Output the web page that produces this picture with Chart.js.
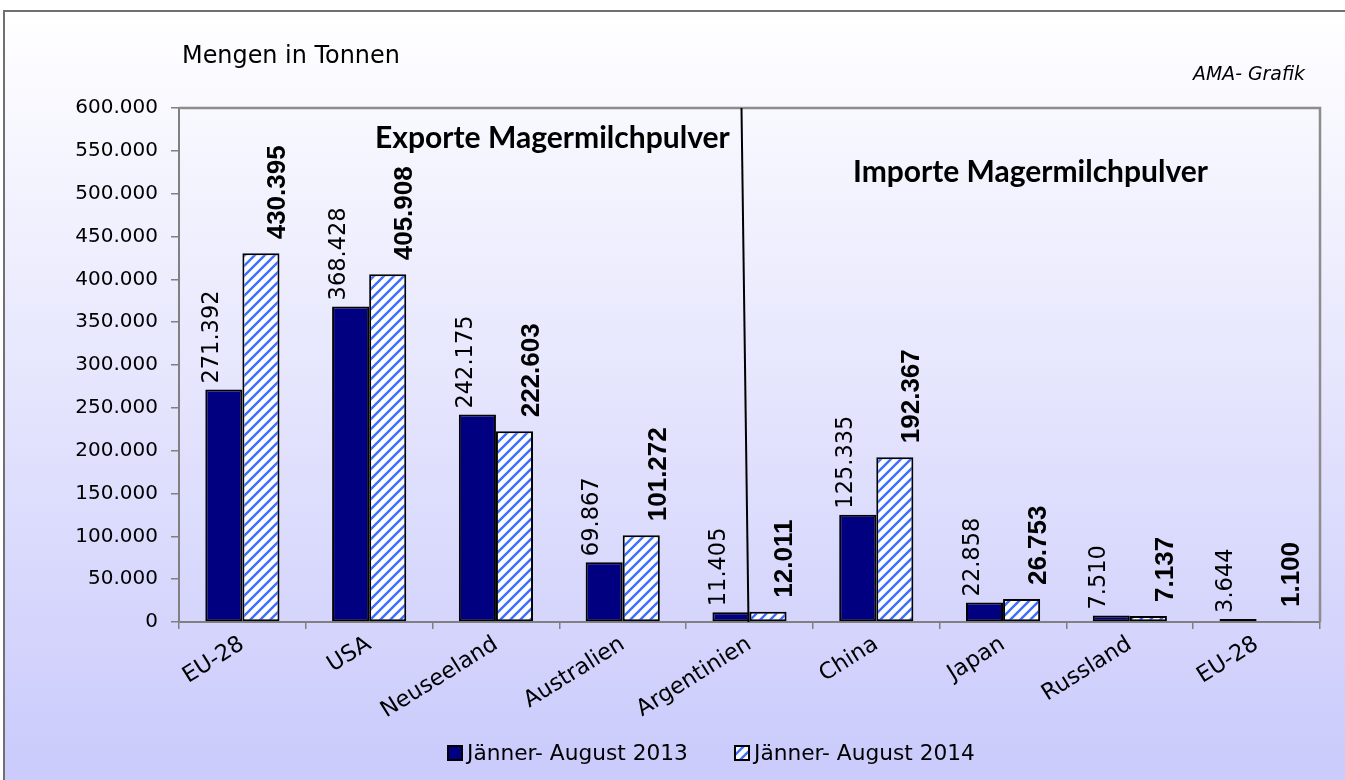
<!DOCTYPE html>
<html><head><meta charset="utf-8">
<script src="https://cdn.jsdelivr.net/npm/chart.js@4.4.1/dist/chart.umd.min.js"></script>
<style>html,body{margin:0;padding:0;background:#fff;}#wrap{width:1345px;height:780px;position:relative;}</style>
</head><body><div id="wrap"><canvas id="c" width="1345" height="780"></canvas></div>
<script>
const categories = ['EU-28','USA','Neuseeland','Australien','Argentinien','China','Japan','Russland','EU-28'];
const values2013 = [271392,368428,242175,69867,11405,125335,22858,7510,3644];
const values2014 = [430395,405908,222603,101272,12011,192367,26753,7137,1100];
const seriesNames = ['Jänner- August 2013','Jänner- August 2014'];
const yTickValues = [0,50000,100000,150000,200000,250000,300000,350000,400000,450000,500000,550000,600000];
const unitLabel = 'Mengen in Tonnen';
const sourceLabel = 'AMA- Grafik';
const exportTitle = 'Exporte Magermilchpulver';
const importTitle = 'Importe Magermilchpulver';

function fmt(v){ return String(v).replace(/\B(?=(\d{3})+(?!\d))/g,'.'); }

const pc = document.createElement('canvas');
pc.width = 10; pc.height = 10;
const p = pc.getContext('2d');
p.fillStyle = '#ffffff'; p.fillRect(0,0,10,10);
p.strokeStyle = '#3c6eff'; p.lineWidth = 2.4;
p.beginPath();
p.moveTo(-2,12); p.lineTo(12,-2);
p.moveTo(-7,7); p.lineTo(7,-7);
p.moveTo(3,17); p.lineTo(17,3);
p.stroke();
const ctx0 = document.getElementById('c').getContext('2d');
const hatch = ctx0.createPattern(pc,'repeat');

function fitSize(ctx, text, style, weight, family, targetW){
  ctx.font = style+' '+weight+' 100px '+family;
  return 100*targetW/ctx.measureText(text).width;
}
function drawFit(ctx, text, x, y, style, weight, family, targetW, align){
  const s = fitSize(ctx, text, style, weight, family, targetW);
  ctx.font = style+' '+weight+' '+s.toFixed(2)+'px '+family;
  ctx.textAlign = align || 'left';
  ctx.textBaseline = 'alphabetic';
  ctx.fillText(text, x, y);
}

const deco = {
  id:'deco',
  beforeDraw(chart){
    const c = chart.ctx;
    c.save();
    c.fillStyle = '#ffffff'; c.fillRect(0,0,1345,780);
    const g = c.createLinearGradient(0,11,0,750);
    g.addColorStop(0,'#ffffff'); g.addColorStop(1,'#ccccfc');
    c.fillStyle = g; c.fillRect(4,11,1341,769);
    c.strokeStyle = '#707070'; c.lineWidth = 2;
    c.beginPath(); c.moveTo(4,780); c.lineTo(4,11); c.lineTo(1345,11); c.stroke();
    c.restore();
  },
  afterDatasetsDraw(chart){
    const c = chart.ctx, a = chart.chartArea, xs = chart.scales.x;
    c.save();
    c.strokeStyle = '#8c8c8c'; c.lineWidth = 2.5;
    c.beginPath(); c.moveTo(a.left, a.top); c.lineTo(a.right, a.top); c.lineTo(a.right, a.bottom); c.stroke();
    const sx = xs.getPixelForValue(4);
    c.strokeStyle = '#000'; c.lineWidth = 2;
    c.beginPath(); c.moveTo(sx-8, a.top); c.lineTo(sx-1, a.bottom); c.stroke();
    chart.data.datasets.forEach((ds, di) => {
      const meta = chart.getDatasetMeta(di);
      const bold = di === 1;
      const size = bold ? 26 : 22.5;
      const family = bold ? '"Liberation Sans", Arial, sans-serif' : '"DejaVu Sans", sans-serif';
      c.font = (bold ? 'bold ' : '') + size + 'px ' + family;
      const cap = size * (bold ? 0.716 : 0.729);
      meta.data.forEach((bar, i) => {
        const txt = fmt(ds.data[i]);
        const cx = bar.x + (bold ? 15 : -14);
        const gap = bold ? 14 : 6;
        c.save();
        c.translate(cx + cap/2, bar.y - gap);
        c.rotate(-Math.PI/2);
        c.fillStyle = '#000';
        c.textAlign = 'left'; c.textBaseline = 'alphabetic';
        c.fillText(txt, 0, 0);
        c.restore();
      });
    });
    c.restore();
  },
  afterDraw(chart){
    const c = chart.ctx;
    c.save();
    c.fillStyle = '#000';
    drawFit(c, unitLabel, 182, 63, 'normal', 'normal', '"DejaVu Sans", sans-serif', 218);
    drawFit(c, sourceLabel, 1305, 80, 'italic', 'normal', '"DejaVu Sans", sans-serif', 112, 'right');
    drawFit(c, exportTitle, 375, 148, 'normal', 'bold', 'Lato, "Open Sans", sans-serif', 355);
    drawFit(c, importTitle, 853, 182, 'normal', 'bold', 'Lato, "Open Sans", sans-serif', 355);
    const items = [{x:448, fill:'#000080', tw:221},{x:735, fill:hatch, tw:221}];
    items.forEach((it, k) => {
      c.fillStyle = it.fill; c.fillRect(it.x, 746, 14, 14);
      c.strokeStyle = '#000'; c.lineWidth = 2; c.strokeRect(it.x, 746, 14, 14);
      c.fillStyle = '#000';
      drawFit(c, seriesNames[k], it.x + 19, 760, 'normal', 'normal', '"DejaVu Sans", sans-serif', it.tw);
    });
    c.restore();
  }
};

new Chart(document.getElementById('c'), {
  type:'bar',
  data:{
    labels: categories,
    datasets:[
      {label: seriesNames[0], data: values2013, backgroundColor:'#000080', borderColor:'#000', borderWidth:2, borderSkipped:false, categoryPercentage:0.585, barPercentage:1},
      {label: seriesNames[1], data: values2014, backgroundColor: hatch, borderColor:'#000', borderWidth:2, borderSkipped:false, categoryPercentage:0.585, barPercentage:1}
    ]
  },
  options:{
    responsive:false, animation:false, devicePixelRatio:1,
    layout:{padding:{left:0, top:108, right:25, bottom:0}},
    plugins:{legend:{display:false}, tooltip:{enabled:false}, title:{display:false}},
    scales:{
      x:{
        grid:{offset:true, drawOnChartArea:false, drawTicks:true, tickLength:7, color:'#808080', lineWidth:1.5},
        border:{color:'#808080', width:2},
        ticks:{color:'#000', font:{family:'"DejaVu Sans", sans-serif', size:22.5}, maxRotation:32, minRotation:32, padding:2, autoSkip:false},
        afterFit(s){ s.height = 158; }
      },
      y:{
        min:0, max:600000,
        afterBuildTicks(s){ s.ticks = yTickValues.map(v => ({value:v})); },
        grid:{drawOnChartArea:false, drawTicks:true, tickLength:8, color:'#808080', lineWidth:1.5},
        border:{color:'#808080', width:2},
        ticks:{color:'#000', font:{family:'"DejaVu Sans", sans-serif', size:20}, padding:13, callback:(v)=>fmt(v)},
        afterFit(s){ s.width = 179; }
      }
    }
  },
  plugins:[deco]
});
</script></body></html>
